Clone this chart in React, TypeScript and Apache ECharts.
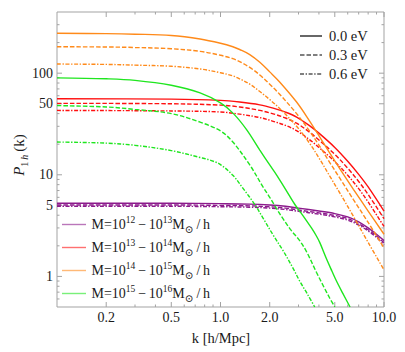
import React, { useEffect, useRef } from "react";
import * as echarts from "echarts";

const SERIF = "'Liberation Serif', 'DejaVu Serif', serif";

// ---- data (k in h/Mpc, P_1h values) ----
const purpleK = [0.1, 0.5, 1.0, 1.5, 2.0, 2.5, 3.0, 4.0, 5.0, 6.0, 7.0, 8.0, 9.0, 10];
const purpleSolid = [5.25, 5.25, 5.2, 5.15, 5.05, 4.9, 4.7, 4.4, 4.15, 3.85, 3.45, 3.0, 2.6, 2.25];
const purpleDashed = [5.05, 5.05, 5.0, 4.95, 4.85, 4.7, 4.5, 4.22, 3.98, 3.7, 3.3, 2.88, 2.5, 2.15];
const purpleDotDash = [4.9, 4.9, 4.85, 4.8, 4.7, 4.55, 4.37, 4.1, 3.85, 3.58, 3.2, 2.8, 2.42, 2.05];

const redK = [0.1, 0.5, 1.0, 1.31, 1.74, 2.1, 2.5, 2.92, 3.5, 4.0, 5.0, 6.0, 7.0, 8.0, 10];
const redSolid = [56, 55.5, 54, 52, 48.8, 45.3, 41.3, 37, 30.5, 25.7, 18.6, 13.6, 10.1, 7.6, 4.4];
const redDashed = [50.5, 50, 48.5, 46.5, 43, 39.8, 36.2, 32.2, 26.3, 22, 15.9, 11.6, 8.6, 6.4, 3.7];
const redDotDash = [43, 42.5, 41.5, 39.5, 36.6, 33.6, 30.6, 27.2, 22.2, 18.6, 13.5, 9.9, 7.3, 5.4, 3.1];

const orangeK = [0.1, 0.2, 0.3, 0.5, 0.75, 1.0, 1.19, 1.31, 1.51, 1.74, 2.0, 2.3, 2.92, 3.5, 4.05, 4.66, 5.5, 6.5, 8, 10];
const orangeSolid = [247, 245, 242, 235, 217, 197, 182, 171, 152.5, 128, 103, 82, 52, 34, 23.5, 16.3, 10.8, 7.2, 4.4, 2.6];
const orangeDashed = [182, 181, 179, 174, 164, 150, 139, 130, 114, 96, 78, 62, 40, 27, 19, 13.2, 8.7, 5.7, 3.4, 1.9];
const orangeDotDash = [123, 122, 120, 117, 110, 101, 94, 88, 78, 66, 55, 45, 30, 20.5, 14.2, 9.7, 6.2, 3.9, 2.16, 1.16];

const greenSolidK = [0.1, 0.2, 0.3, 0.5, 0.75, 1.0, 1.2, 1.44, 1.74, 2.0, 2.2, 2.5, 2.85, 3.2, 3.6, 3.86, 4.05, 4.44, 4.8, 5.12, 5.6, 6.2];
const greenSolid = [90, 88, 85, 76, 64, 51, 40, 28, 17.5, 12.5, 10, 7.2, 5.1, 3.95, 3.0, 2.5, 2.15, 1.5, 1.13, 0.9, 0.68, 0.5];
const greenDashedK = [0.1, 0.2, 0.3, 0.5, 0.75, 1.0, 1.19, 1.51, 1.82, 2.0, 2.2, 2.41, 2.7, 3.05, 3.36, 3.86, 4.3, 4.66, 5.0];
const greenDashed = [48, 46.5, 44, 40, 33, 27, 21, 12.5, 7.6, 6.0, 4.65, 3.7, 2.85, 2.25, 1.75, 1.1, 0.78, 0.61, 0.5];
const greenDotDashK = [0.1, 0.2, 0.3, 0.5, 0.75, 0.88, 1.0, 1.19, 1.37, 1.62, 1.82, 2.1, 2.41, 2.78, 3.05, 3.4, 3.77];
const greenDotDash = [21, 20.5, 19.5, 17.3, 14.8, 13.8, 12.6, 9.9, 7.4, 5.1, 3.75, 2.55, 1.8, 1.2, 0.9, 0.67, 0.5];

// ---- axes ----
const X_MIN = 0.1;
const X_MAX = 10;
const Y_MIN = 0.5;
const Y_MAX = 400;
const xTickValues = [0.2, 0.5, 1, 2, 5, 10];
const xTickLabels = ["0.2", "0.5", "1.0", "2.0", "5.0", "10.0"];
const xMinorValues = [0.3, 0.4, 0.6, 0.7, 0.8, 0.9, 3, 4, 6, 7, 8, 9];
const yTickValues = [1, 5, 10, 50, 100];
const yTickLabels = ["1", "5", "10", "50", "100"];
const yMinorValues = [0.6, 0.7, 0.8, 0.9, 2, 3, 4, 6, 7, 8, 9, 20, 30, 40, 60, 70, 80, 90, 200, 300];

// ---- legends ----
const massLabels = [
  ["12", "13"],
  ["13", "14"],
  ["14", "15"],
  ["15", "16"],
];
const nuLabels = ["0.0 eV", "0.3 eV", "0.6 eV"];

const PURPLE = "#8c1a8c";
const RED = "#ff1010";
const ORANGE = "#ff8a1a";
const GREEN = "#1fe61f";
const FRAME = "#a3a3a3";
const TEXT = "#1a1a1a";
const DASHED = [4.5, 2];
const DOTDASH = [4, 1.6, 1.4, 1.6];

const L = Math.log10;

export default function App() {
  const ref = useRef<HTMLDivElement>(null);
  useEffect(() => {
    document.body.style.margin = "0";
    const chart = echarts.init(ref.current!, null, { renderer: "svg" });

    const toData = (ks: number[], vs: number[]) => ks.map((k, i) => [L(k), L(vs[i])]);
    const curves: any[] = [
      [purpleK, purpleSolid, PURPLE, "solid"],
      [purpleK, purpleDashed, PURPLE, DASHED],
      [purpleK, purpleDotDash, PURPLE, DOTDASH],
      [redK, redSolid, RED, "solid"],
      [redK, redDashed, RED, DASHED],
      [redK, redDotDash, RED, DOTDASH],
      [orangeK, orangeSolid, ORANGE, "solid"],
      [orangeK, orangeDashed, ORANGE, DASHED],
      [orangeK, orangeDotDash, ORANGE, DOTDASH],
      [greenSolidK, greenSolid, GREEN, "solid"],
      [greenDashedK, greenDashed, GREEN, DASHED],
      [greenDotDashK, greenDotDash, GREEN, DOTDASH],
    ];
    const lineSeries = curves.map(([ks, vs, color, type]) => ({
      type: "line",
      data: toData(ks, vs),
      showSymbol: false,
      symbol: "none",
      smooth: 0.35,
      clip: true,
      silent: true,
      lineStyle: { color, width: 1.4, type },
    }));

    const tickData: number[][] = [];
    for (const side of [0, 1]) {
      xTickValues.forEach((v) => tickData.push([L(v), side, 1]));
      xMinorValues.forEach((v) => tickData.push([L(v), side, 0]));
    }
    for (const side of [2, 3]) {
      yTickValues.forEach((v) => tickData.push([L(v), side, 1]));
      yMinorValues.forEach((v) => tickData.push([L(v), side, 0]));
    }

    const tickSeries = {
      type: "custom",
      silent: true,
      clip: false,
      data: tickData,
      renderItem: (params: any, api: any) => {
        const v = api.value(0);
        const side = api.value(1);
        const len = api.value(2) ? 5 : 2.5;
        let x1 = 0, y1 = 0, x2 = 0, y2 = 0;
        if (side === 0) {
          const p = api.coord([v, L(Y_MIN)]);
          x1 = x2 = p[0]; y1 = p[1]; y2 = p[1] - len;
        } else if (side === 1) {
          const p = api.coord([v, L(Y_MAX)]);
          x1 = x2 = p[0]; y1 = p[1]; y2 = p[1] + len;
        } else if (side === 2) {
          const p = api.coord([L(X_MIN), v]);
          y1 = y2 = p[1]; x1 = p[0]; x2 = p[0] + len;
        } else {
          const p = api.coord([L(X_MAX), v]);
          y1 = y2 = p[1]; x1 = p[0]; x2 = p[0] - len;
        }
        return { type: "line", shape: { x1, y1, x2, y2 }, style: { stroke: FRAME, lineWidth: 1 } };
      },
    };

    const xLabelSeries = {
      type: "custom",
      silent: true,
      clip: false,
      data: xTickValues.map((v) => [L(v), L(Y_MIN)]),
      renderItem: (params: any, api: any) => {
        const p = api.coord([api.value(0), api.value(1)]);
        return {
          type: "text",
          x: p[0],
          y: p[1] + 10,
          style: {
            text: xTickLabels[params.dataIndex],
            align: "center",
            verticalAlign: "middle",
            fontSize: 14,
            fontFamily: SERIF,
            fill: TEXT,
          },
        };
      },
    };
    const yLabelSeries = {
      type: "custom",
      silent: true,
      clip: false,
      data: yTickValues.map((v) => [L(X_MIN), L(v)]),
      renderItem: (params: any, api: any) => {
        const p = api.coord([api.value(0), api.value(1)]);
        return {
          type: "text",
          x: p[0] - 4,
          y: p[1],
          style: {
            text: yTickLabels[params.dataIndex],
            align: "right",
            verticalAlign: "middle",
            fontSize: 14,
            fontFamily: SERIF,
            fill: TEXT,
          },
        };
      },
    };

    const rich = {
      n: { fontSize: 14, fontFamily: SERIF, fill: TEXT, lineHeight: 20, verticalAlign: "middle" },
      s: { fontSize: 9.5, fontFamily: SERIF, fill: TEXT, lineHeight: 12, verticalAlign: "top" },
      b: { fontSize: 10.5, fontFamily: SERIF, fill: TEXT, lineHeight: 12, verticalAlign: "bottom" },
    };

    const massColors = [PURPLE, RED, ORANGE, GREEN];
    const massRowsY = [224.5, 247.5, 270.5, 293.5];
    const massLegend: any[] = [];
    massLabels.forEach((m, i) => {
      massLegend.push({
        type: "line",
        shape: { x1: 62, y1: massRowsY[i], x2: 86, y2: massRowsY[i] },
        style: { stroke: massColors[i], lineWidth: 1.4, opacity: 0.6 },
        silent: true,
      });
      massLegend.push({
        type: "text",
        x: 91.5,
        y: massRowsY[i],
        style: {
          text: `{n|M=10}{s|${m[0]}}{n|\u2009−\u200910}{s|${m[1]}}{n|M}{b|⊙}{n|\u2009/\u2009h}`,
          rich,
          align: "left",
          verticalAlign: "middle",
        },
        silent: true,
      });
    });

    const nuRowsY = [36, 55, 74];
    const nuDash: any[] = [null, DASHED, DOTDASH];
    const nuLegend: any[] = [];
    nuLabels.forEach((t, i) => {
      nuLegend.push({
        type: "line",
        shape: { x1: 300, y1: nuRowsY[i], x2: 322, y2: nuRowsY[i] },
        style: { stroke: "#000", lineWidth: 1.2, lineDash: nuDash[i] },
        silent: true,
      });
      nuLegend.push({
        type: "text",
        x: 329,
        y: nuRowsY[i],
        style: { text: t, fontSize: 14.5, fontFamily: SERIF, fill: TEXT, align: "left", verticalAlign: "middle" },
        silent: true,
      });
    });

    const option: any = {
      animation: false,
      grid: {
        left: 57,
        right: 21,
        top: 12,
        bottom: 45,
        show: true,
        borderColor: FRAME,
        borderWidth: 1,
      },
      xAxis: { type: "value", min: L(X_MIN), max: L(X_MAX), show: false },
      yAxis: { type: "value", min: L(Y_MIN), max: L(Y_MAX), show: false },
      series: [...lineSeries, tickSeries, xLabelSeries, yLabelSeries],
      graphic: [
        ...massLegend,
        ...nuLegend,
        {
          type: "text",
          x: 221,
          y: 338,
          style: { text: "k [h/Mpc]", fontSize: 14.5, fontFamily: SERIF, fill: TEXT, align: "center", verticalAlign: "middle" },
          silent: true,
        },
        {
          type: "text",
          x: 19,
          y: 155,
          rotation: Math.PI / 2,
          style: {
            text: "{i|P}{s|1\u2009}{si|h}{n|\u2009(k)}",
            rich: {
              n: { fontSize: 15, fontFamily: SERIF, fill: TEXT, lineHeight: 20, verticalAlign: "middle" },
              i: { fontSize: 15, fontFamily: SERIF, fontStyle: "italic", fill: TEXT, lineHeight: 20, verticalAlign: "middle" },
              s: { fontSize: 10, fontFamily: SERIF, fill: TEXT, lineHeight: 12, verticalAlign: "bottom" },
              si: { fontSize: 10, fontFamily: SERIF, fontStyle: "italic", fill: TEXT, lineHeight: 12, verticalAlign: "bottom" },
            },
            align: "center",
            verticalAlign: "middle",
          },
          silent: true,
        },
      ],
    };
    chart.setOption(option);
    return () => chart.dispose();
  }, []);
  return <div ref={ref} style={{ width: 405, height: 352 }} />;
}
